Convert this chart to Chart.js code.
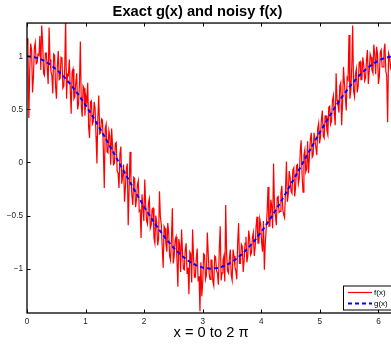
<!DOCTYPE html>
<html>
<head>
<meta charset="utf-8">
<title>Exact g(x) and noisy f(x)</title>
<script src="https://cdn.jsdelivr.net/npm/chart.js@4"></script>
<style>
  body { margin: 0; overflow: hidden; background: #fff; }
  #wrap { position: absolute; left: 0; top: 0; }
  canvas { display: block; }
</style>
</head>
<body>
<div id="wrap"><canvas id="plot" width="420" height="345"></canvas></div>
<script>
// sampled from 0 to 2*pi, evenly spaced
const xMax = 6.2832;

// noisy f(x) (401 samples)
const fValues = [
  1.17, 1.10, 0.42, 0.88, 1.12, 1.06, 0.66, 0.81, 1.08, 1.13,
  0.93, 0.94, 1.02, 1.01, 1.19, 0.87, 1.29, 1.13, 0.84, 0.82,
  1.03, 1.03, 0.88, 0.74, 1.27, 0.97, 0.86, 0.82, 0.65, 1.02,
  1.01, 0.72, 0.60, 0.91, 1.05, 0.78, 0.79, 0.99, 0.98, 0.70,
  0.72, 0.89, 1.35, 0.60, 0.83, 0.82, 0.97, 0.70, 0.46, 0.85,
  0.88, 0.60, 0.62, 0.75, 0.84, 0.50, 0.55, 0.74, 1.14, 0.54,
  0.43, 0.72, 0.70, 0.44, 0.62, 0.57, 0.75, 0.33, 0.23, 0.57,
  0.58, 0.36, 0.38, 0.57, 0.51, 0.25, -0.01, 0.42, 0.63, 0.27,
  0.28, 0.41, 0.40, 0.12, -0.24, 0.32, 0.36, 0.10, 0.09, 0.30,
  0.25, -0.02, 0.32, 0.16, -0.02, -0.01, 0.18, 0.19, -0.08, -0.10,
  -0.24, 0.08, 0.15, -0.20, -0.12, -0.02, -0.37, -0.23, -0.06, -0.01,
  -0.59, -0.25, 0.10, -0.16, -0.31, -0.40, -0.14, -0.15, -0.42, -0.35,
  -0.21, -0.17, -0.46, -0.45, -0.71, -0.30, -0.30, -0.55, -0.16, -0.39,
  -0.55, -0.58, -0.38, -0.34, -0.62, -0.59, -0.44, -0.43, -0.71, -0.76,
  -0.50, -0.57, -0.78, -0.72, -0.27, -0.51, -0.59, -0.80, -0.99, -0.60,
  -0.62, -0.77, -0.84, -0.57, -0.66, -0.88, -0.92, -0.72, -0.43, -0.95,
  -0.88, -0.73, -0.70, -0.92, -1.17, -0.72, -0.78, -1.03, -0.63, -0.84,
  -1.00, -1.01, -0.82, -0.76, -1.05, -0.99, -1.24, -0.84, -0.86, -1.13,
  -0.63, -0.88, -1.08, -1.08, -0.90, -0.81, -1.12, -1.07, -1.40, -0.94,
  -1.26, -1.13, -0.86, -0.87, -1.10, -1.06, -0.66, -0.86, -1.05, -1.10,
  -0.92, -0.92, -1.12, -1.16, -0.88, -0.89, -1.02, -1.04, -1.15, -0.82,
  -0.60, -1.11, -1.04, -0.92, -0.88, -1.12, -0.40, -0.87, -1.02, -1.04,
  -0.90, -0.82, -1.06, -1.11, -0.82, -0.88, -0.98, -1.02, -1.10, -0.75,
  -0.57, -0.95, -0.95, -0.77, -0.79, -1.03, -0.92, -0.76, -0.70, -0.94,
  -0.88, -0.64, -0.72, -0.87, -0.85, -0.71, -0.66, -0.88, -0.80, -0.60,
  -0.51, -0.76, -0.76, -0.53, -0.58, -0.75, -0.84, -0.55, -1.01, -0.76,
  -0.62, -0.47, -0.23, -0.60, -0.60, -0.35, -0.41, -0.62, -0.01, -0.41,
  -0.50, -0.59, -0.33, -0.32, -0.47, -0.46, -0.29, -0.22, -0.44, -0.49,
  -0.52, -0.25, 0.01, -0.37, -0.30, -0.08, -0.14, -0.27, -0.29, -0.07,
  -0.05, -0.32, -0.22, -0.03, -0.02, -0.20, -0.15, 0.11, 0.21, -0.11,
  -0.28, 0.07, 0.12, -0.09, -0.06, 0.20, -0.10, 0.05, 0.22, 0.28,
  0.05, 0.07, 0.28, 0.28, 0.14, 0.07, 0.32, 0.37, 0.18, 0.24,
  0.40, 0.49, 0.25, 0.23, 0.44, 0.44, 0.30, 0.26, 0.52, 0.53,
  0.36, 0.39, 0.58, 0.63, 0.46, 0.35, 0.84, 0.59, 0.55, 0.47,
  0.72, 0.75, 0.35, 0.56, 0.90, 0.75, 0.62, 0.49, 0.80, 0.78,
  1.20, 0.60, 0.68, 0.90, 1.29, 0.67, 0.62, 0.83, 0.88, 0.66,
  0.72, 0.94, 0.95, 0.78, 0.78, 0.99, 0.92, 0.77, 0.80, 0.96,
  1.06, 0.74, 0.86, 1.02, 0.99, 0.87, 0.84, 1.11, 1.02, 0.83,
  1.09, 1.02, 0.74, 0.81, 1.04, 1.06, 0.90, 0.90, 1.05, 1.12,
  0.86, 0.82, 0.38, 1.03, 1.00, 0.89, 0.92, 1.15, 1.04, 0.93,
  0.82
];

// exact g(x)
const gValues = [
  1.000, 0.992, 0.969, 0.930, 0.876, 0.809, 0.729, 0.637, 0.536, 0.426,
  0.309, 0.187, 0.063, -0.063, -0.187, -0.309, -0.426, -0.536, -0.637, -0.729,
  -0.809, -0.876, -0.930, -0.969, -0.992, -1.000, -0.992, -0.969, -0.930, -0.876,
  -0.809, -0.729, -0.637, -0.536, -0.426, -0.309, -0.187, -0.063, 0.063, 0.187,
  0.309, 0.426, 0.536, 0.637, 0.729, 0.809, 0.876, 0.930, 0.969, 0.992,
  1.000
];

const xTickValues = [0, 1, 2, 3, 4, 5, 6];
const yTickValues = [-1, -0.5, 0, 0.5, 1];
const yMin = -1.417, yMax = 1.313;

const seriesNames = ['f(x)', 'g(x)'];

function toPoints(vals) {
  return vals.map((v, i) => ({ x: i * xMax / (vals.length - 1), y: v }));
}

function fmtTick(v) {
  return v < 0 ? '\u2212' + Math.abs(v) : String(v);
}

const FONT = "'Liberation Sans', Arial, Helvetica, sans-serif";

// box, inward ticks and the legend drawn the matlab way
const matlabAxes = {
  id: 'matlabAxes',
  afterDatasetsDraw(chart) {
    const { ctx, chartArea: a, scales: { x, y } } = chart;
    ctx.save();
    ctx.strokeStyle = '#000';
    ctx.lineWidth = 1;
    ctx.beginPath();
    x.ticks.forEach(t => {
      const px = Math.round(x.getPixelForValue(t.value)) + 0.5;
      ctx.moveTo(px, a.bottom); ctx.lineTo(px, a.bottom - 3.5);
      ctx.moveTo(px, a.top); ctx.lineTo(px, a.top + 3.5);
    });
    y.ticks.forEach(t => {
      const py = Math.round(y.getPixelForValue(t.value)) + 0.5;
      ctx.moveTo(a.left, py); ctx.lineTo(a.left + 3.5, py);
      ctx.moveTo(a.right, py); ctx.lineTo(a.right - 3.5, py);
    });
    ctx.stroke();
    ctx.lineWidth = 1.3;
    ctx.strokeRect(a.left, a.top, a.right - a.left, a.bottom - a.top);

    // legend
    const lx = a.right - 52, ly = a.bottom - 27.5;
    ctx.fillStyle = '#fff';
    ctx.fillRect(lx, ly, 80, 24);
    ctx.lineWidth = 1;
    ctx.strokeRect(lx + 0.5, ly + 0.5, 80, 24);
    const ds = chart.data.datasets;
    [1, 0].forEach((di, row) => {
      const d = ds[di];
      const yy = ly + 7 + row * 11;
      ctx.beginPath();
      ctx.strokeStyle = d.borderColor;
      ctx.lineWidth = d.borderWidth;
      ctx.setLineDash(d.borderDash || []);
      ctx.moveTo(lx + 5, yy); ctx.lineTo(lx + 29, yy);
      ctx.stroke();
      ctx.setLineDash([]);
      ctx.fillStyle = '#000';
      ctx.font = '8px ' + FONT;
      ctx.textBaseline = 'middle';
      ctx.textAlign = 'left';
      ctx.fillText(d.label, lx + 31, yy);
    });
    ctx.restore();
  }
};

new Chart(document.getElementById('plot'), {
  type: 'line',
  data: {
    datasets: [
      {
        label: seriesNames[1],
        data: toPoints(gValues),
        borderColor: '#0000ff',
        borderWidth: 2,
        borderDash: [4, 3],
        pointRadius: 0,
        tension: 0
      },
      {
        label: seriesNames[0],
        data: toPoints(fValues),
        borderColor: '#ff0000',
        borderWidth: 1.2,
        pointRadius: 0,
        tension: 0
      }
    ]
  },
  options: {
    responsive: false,
    devicePixelRatio: 1,
    animation: false,
    layout: { padding: { left: 0, right: 25, top: 0, bottom: 0 } },
    plugins: {
      legend: { display: false },
      tooltip: { enabled: false },
      title: {
        display: true,
        text: 'Exact g(x) and noisy f(x)',
        color: '#000',
        font: { family: FONT, size: 14.7, weight: 'bold' },
        padding: { top: 3, bottom: 2.4 }
      }
    },
    scales: {
      x: {
        type: 'linear',
        min: 0,
        max: xMax,
        afterBuildTicks: s => { s.ticks = xTickValues.map(v => ({ value: v })); },
        afterFit: s => { s.height = 32; },
        grid: { display: false, drawTicks: false },
        border: { display: false },
        ticks: {
          color: '#222',
          font: { family: FONT, size: 8.2 },
          padding: 4,
          maxRotation: 0,
          callback: v => fmtTick(v)
        },
        title: {
          display: true,
          text: 'x = 0 to 2 \u03c0',
          color: '#000',
          font: { family: FONT, size: 14.7 },
          padding: { top: 0, bottom: 3 }
        }
      },
      y: {
        type: 'linear',
        min: yMin,
        max: yMax,
        afterBuildTicks: s => { s.ticks = yTickValues.map(v => ({ value: v })); },
        afterFit: s => { s.width = 27; },
        grid: { display: false, drawTicks: false },
        border: { display: false },
        ticks: {
          color: '#222',
          font: { family: FONT, size: 8.2 },
          padding: 4,
          callback: v => fmtTick(v)
        }
      }
    }
  },
  plugins: [matlabAxes]
});
</script>
</body>
</html>
